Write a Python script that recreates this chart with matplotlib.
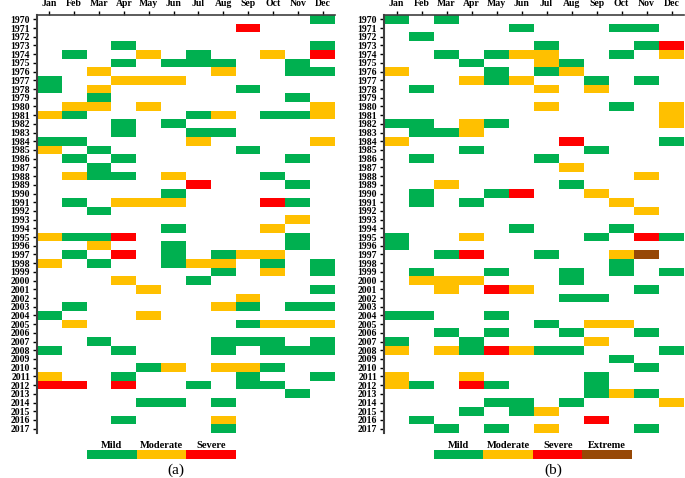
import numpy as np
import matplotlib
matplotlib.use("Agg")
import matplotlib.pyplot as plt
from matplotlib.colors import ListedColormap, BoundaryNorm

plt.rcParams['font.family'] = ['Liberation Serif', 'DejaVu Serif']

# Данные: 0 - нет, 1 - Mild, 2 - Moderate, 3 - Severe, 4 - Extreme
years = list(range(1970, 2018))
months = ["Jan", "Feb", "Mar", "Apr", "May", "Jun",
          "Jul", "Aug", "Sep", "Oct", "Nov", "Dec"]

rows_a = [
    "000000000001", "000000003000", "000000000000", "000100000001",
    "010020100203", "000101110010", "002000020011", "100222000000",
    "102000001000", "001000000010", "022020000002", "210000120112",
    "000101000000", "000100110000", "110000200002", "201000001000",
    "010100000010", "001000000000", "021102000100", "000000300010",
    "000001000000", "010222000310", "001000000000", "000000000020",
    "000001000200", "211300000010", "002001000010", "010301012200",
    "201001220101", "000000010201", "000200100000", "000020000001",
    "000000002000", "010000021011", "100020000000", "020000001222",
    "000000000000", "001000011101", "100100010111", "000000000000",
    "000012022100", "200100001001", "330300101100", "000000000010",
    "000011010000", "000000000000", "000100020000", "000000010000",
]

rows_b = [
    "101000000000", "000001000110", "010000000000", "000000100013",
    "001012200102", "000100210000", "200010120000", "000212001010",
    "010000202000", "000000000000", "000000200102", "000000000002",
    "110210000002", "011200000000", "200000030001", "000100001000",
    "010000100000", "000000020000", "000000000020", "002000010000",
    "010013002000", "010100000200", "000000000020", "000000000000",
    "000001000100", "100200001031", "100000000000", "001300100240",
    "000000000100", "010010010101", "022200010000", "002032000010",
    "000000011000", "000000000000", "110010000000", "000000102200",
    "001010010010", "100100002000", "202132110001", "000000000100",
    "000000000010", "200200001000", "210310001000", "000000001210",
    "000011010002", "000101200000", "010000003000", "001010200010",
]

classes = ["Mild", "Moderate", "Severe", "Extreme"]
colors = ["#FFFFFF", "#00B050", "#FFC000", "#FF0000", "#974806"]

cmap = ListedColormap(colors)
norm = BoundaryNorm(np.arange(-0.5, 5.5, 1), cmap.N)

fig = plt.figure(figsize=(6.85, 4.78), dpi=100)


def draw_panel(rect, rows):
    ax = fig.add_axes(rect)
    data = np.array([[int(c) for c in r] for r in rows])
    ax.imshow(data, cmap=cmap, norm=norm, aspect="auto",
              interpolation="nearest")
    ax.set_xticks(range(12))
    ax.set_xticklabels(months, fontsize=7, fontweight="bold")
    ax.set_yticks(range(len(years)))
    ax.set_yticklabels(years, fontsize=7, fontweight="bold")
    ax.xaxis.tick_top()
    ax.tick_params(axis="both", length=3, width=1, pad=2)
    for s in ["right", "bottom"]:
        ax.spines[s].set_visible(False)
    ax.spines["left"].set_linewidth(1.5)
    ax.spines["left"].set_color("#404040")
    ax.spines["top"].set_linewidth(1.2)
    ax.spines["top"].set_color("#404040")
    return ax


def draw_legend(x0, n, label_y):
    # полоска легенды в пикселях
    w = 49.5 / 685
    lax = fig.add_axes([x0, 0.040, w * n, 0.019])
    lax.imshow(np.arange(1, n + 1)[None, :], cmap=cmap, norm=norm,
               aspect="auto", interpolation="nearest")
    lax.axis("off")
    for i in range(n):
        fig.text(x0 + w * (i + 0.5), label_y, classes[i], ha="center",
                 va="center", fontsize=7.5, fontweight="bold")


draw_panel([37 / 685, 45 / 478, 298 / 685, 418 / 478], rows_a)
draw_panel([384 / 685, 45 / 478, 300 / 685, 418 / 478], rows_b)

draw_legend(87 / 685, 3, 0.069)
draw_legend(434 / 685, 4, 0.069)

fig.text(176 / 685, 0.017, "(a)", ha="center", va="center", fontsize=11)
fig.text(553 / 685, 0.017, "(b)", ha="center", va="center", fontsize=11)

fig.savefig("out.png", dpi=100)
